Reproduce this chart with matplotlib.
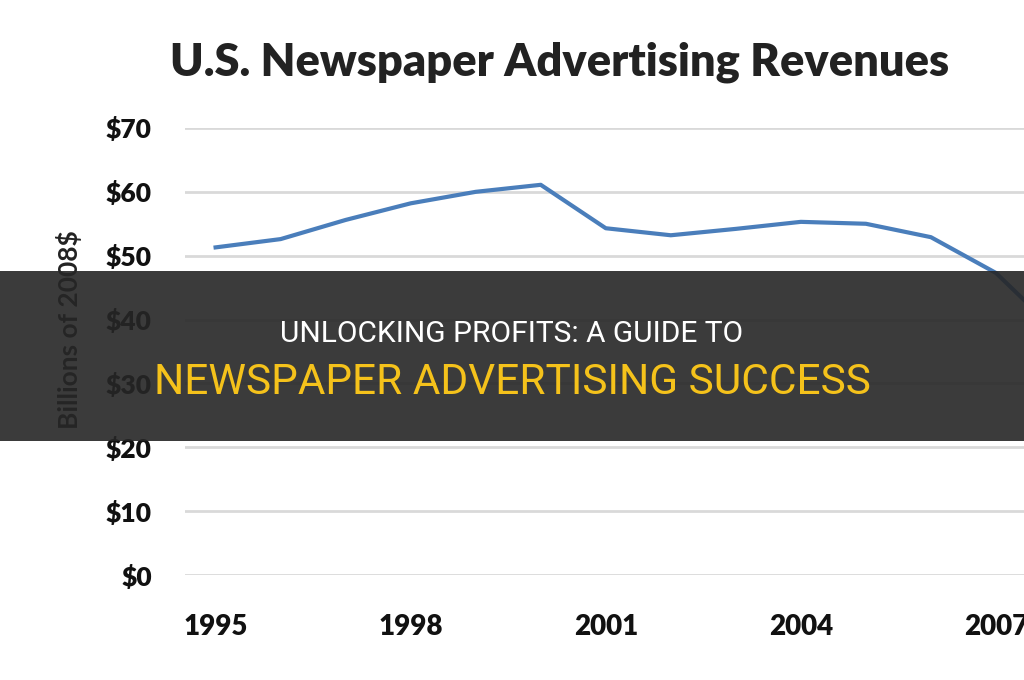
import matplotlib.pyplot as plt
from matplotlib.patches import Rectangle

# Revenue in billions of 2008 dollars
years = [1995, 1996, 1997, 1998, 1999, 2000, 2001, 2002, 2003, 2004, 2005, 2006, 2007, 2008]
revenue = [51.3, 52.6, 55.6, 58.2, 60.0, 61.1, 54.3, 53.2, 54.2, 55.3, 55.0, 52.9, 47.3, 37.5]

yticks = [0, 10, 20, 30, 40, 50, 60, 70]
xticks = [1995, 1998, 2001, 2004, 2007]

title = 'U.S. Newspaper Advertising Revenues'
ylabel = 'Billions of 2008$'
banner_top = 'UNLOCKING PROFITS: A GUIDE TO'
banner_bottom = 'NEWSPAPER ADVERTISING SUCCESS'

fig = plt.figure(figsize=(10.24, 6.8), dpi=100)
ax = fig.add_axes([0.1807, 0.1544, 0.83, 0.6574])

ax.plot(years, revenue, color='#4a7ebb', linewidth=3, solid_joinstyle='round', zorder=3)

ax.set_xlim(1994.53, 2007.6)
ax.set_ylim(0, 70)
ax.set_yticks(yticks)
ax.set_yticklabels(['$%d' % v for v in yticks])
ax.set_xticks(xticks)
ax.set_xticklabels([str(v) for v in xticks])
ax.grid(axis='y', color='#d9d9d9', linewidth=2)
ax.set_axisbelow(True)
for s in ax.spines.values():
    s.set_visible(False)
ax.tick_params(length=0)
ax.tick_params(axis='y', pad=24, labelsize=19)
ax.tick_params(axis='x', pad=28, labelsize=20)
for lbl in ax.get_xticklabels() + ax.get_yticklabels():
    lbl.set_fontweight('heavy')
    lbl.set_family('Lato')
    lbl.set_color('#111111')

fig.text(0.067, 0.515, ylabel, rotation=90, ha='center', va='center',
         fontsize=19, fontweight='bold', family='Lato', color='#222222')
fig.text(0.546, 0.909, title, ha='center', va='center',
         fontsize=32.5, fontweight='heavy', family='Lato', color='#222222')

# dark banner across the middle
fig.patches.append(Rectangle((0, 1 - 441 / 680), 1, 170 / 680, transform=fig.transFigure,
                             facecolor='#262626', alpha=0.9, zorder=5))
fig.text(0.5, 1 - 334 / 680, banner_top, ha='center', va='center',
         fontsize=21.5, color='white', family='Roboto', zorder=6)
fig.text(0.5, 1 - 382 / 680, banner_bottom, ha='center', va='center',
         fontsize=30.5, color='#f5c21b', family='Roboto', zorder=6)

fig.savefig('out.png', dpi=100)
